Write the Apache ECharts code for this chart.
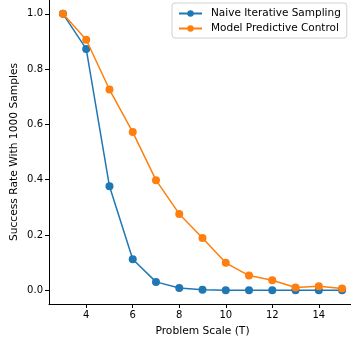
<!DOCTYPE html>
<html>
<head>
<meta charset="utf-8">
<script src="https://cdn.jsdelivr.net/npm/echarts@6/dist/echarts.min.js"></script>
<style>
  html, body { margin: 0; padding: 0; background: #fff; }
  #chart { width: 351px; height: 341px; }
</style>
</head>
<body>
<div id="chart"></div>
<script>
const problemScale = [3, 4, 5, 6, 7, 8, 9, 10, 11, 12, 13, 14, 15];
const naiveSampling = [1.0, 0.873, 0.376, 0.112, 0.030, 0.008, 0.002, 0.0, 0.0, 0.0, 0.0, 0.0, 0.0];
const mpcControl = [1.0, 0.906, 0.726, 0.572, 0.398, 0.276, 0.189, 0.099, 0.053, 0.036, 0.010, 0.014, 0.006];
const xTicks = [4, 6, 8, 10, 12, 14];
const yTicks = [0.0, 0.2, 0.4, 0.6, 0.8, 1.0];

const font = "DejaVu Sans";
const chart = echarts.init(document.getElementById("chart"));

const toPairs = (vals) => problemScale.map((x, i) => [x, vals[i]]);

chart.setOption({
  animation: false,
  textStyle: { fontFamily: font },
  grid: { left: 49, top: 0, width: 307, height: 304, outerBoundsMode: "none", containLabel: false },
  legend: {
    orient: "vertical",
    left: 172,
    top: 3,
    itemWidth: 23,
    itemHeight: 8,
    itemGap: 4,
    padding: [5, 6, 4, 6],
    backgroundColor: "#fff",
    borderColor: "#d0d0d0",
    borderWidth: 1,
    borderRadius: 3,
    textStyle: { fontFamily: font, fontSize: 10.5, color: "#000", padding: [0, 0, 0, 4] },
    data: ["Naive Iterative Sampling", "Model Predictive Control"]
  },
  xAxis: {
    type: "value",
    min: 2.4,
    max: 15.6,
    name: "Problem Scale (T)",
    nameLocation: "middle",
    nameGap: 22,
    nameMoveOverlap: false,
    nameTextStyle: { fontFamily: font, fontSize: 10.7, color: "#000" },
    splitLine: { show: false },
    axisLine: { onZero: false, lineStyle: { color: "#000", width: 1 } },
    axisTick: { customValues: xTicks, length: 4, lineStyle: { color: "#000" } },
    axisLabel: { customValues: xTicks, margin: 6, fontSize: 10, color: "#000", fontFamily: font }
  },
  yAxis: {
    type: "value",
    min: -0.05,
    max: 1.05,
    name: "Success Rate With 1000 Samples",
    nameLocation: "middle",
    nameGap: 29,
    nameMoveOverlap: false,
    nameTextStyle: { fontFamily: font, fontSize: 10.7, color: "#000" },
    splitLine: { show: false },
    axisLine: { show: true, onZero: false, lineStyle: { color: "#000", width: 1 } },
    axisTick: { show: true, customValues: yTicks, length: 4, lineStyle: { color: "#000" } },
    axisLabel: {
      customValues: yTicks,
      margin: 6,
      fontSize: 10,
      color: "#000",
      fontFamily: font,
      formatter: (v) => v.toFixed(1)
    }
  },
  series: [
    {
      name: "Naive Iterative Sampling",
      type: "line",
      data: toPairs(naiveSampling),
      symbol: "circle",
      symbolSize: 8,
      color: "#1f77b4",
      lineStyle: { width: 1.5 },
      z: 2
    },
    {
      name: "Model Predictive Control",
      type: "line",
      data: toPairs(mpcControl),
      symbol: "circle",
      symbolSize: 8,
      color: "#ff7f0e",
      lineStyle: { width: 1.5 },
      z: 3
    }
  ]
});
</script>
</body>
</html>
